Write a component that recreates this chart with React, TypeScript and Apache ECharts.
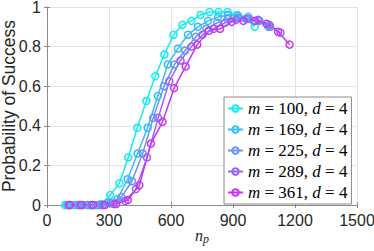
import React, { useEffect, useRef } from "react";
import * as echarts from "echarts";

const mValues = [100, 169, 225, 289, 361];
const dValue = 4;
const colors = ["#12ECF2", "#36BDF5", "#6A93F2", "#9C62F2", "#C934F2"];

const np100 = [87, 131, 175, 218, 262, 306, 350, 393, 437, 481, 524, 568, 612, 655, 699, 743, 787, 830, 874, 918, 961, 1005];
const p100 = [0, 0, 0, 0, 0.005, 0.05, 0.11, 0.24, 0.39, 0.525, 0.65, 0.76, 0.86, 0.91, 0.93, 0.96, 0.975, 0.975, 0.975, 0.96, 0.94, 0.9];

const np169 = [97, 146, 195, 243, 292, 341, 390, 438, 487, 536, 584, 633, 682, 730, 779, 828, 876, 925, 974, 1023, 1071];
const p169 = [0, 0, 0, 0, 0.01, 0.03, 0.13, 0.26, 0.39, 0.55, 0.71, 0.79, 0.86, 0.9, 0.93, 0.95, 0.96, 0.955, 0.95, 0.93, 0.9];

const np225 = [103, 154, 206, 257, 309, 360, 411, 463, 514, 566, 617, 668, 720, 771, 823, 874, 926, 977, 1028, 1080];
const p225 = [0, 0, 0, 0, 0.01, 0.04, 0.12, 0.26, 0.44, 0.6, 0.71, 0.78, 0.85, 0.89, 0.92, 0.94, 0.945, 0.94, 0.93, 0.9];

const np289 = [108, 161, 215, 269, 323, 377, 430, 484, 538, 592, 646, 699, 753, 807, 861, 915, 968, 1022, 1076, 1130];
const p289 = [0, 0, 0, 0, 0.005, 0.02, 0.08, 0.24, 0.44, 0.625, 0.73, 0.8, 0.86, 0.89, 0.92, 0.935, 0.94, 0.935, 0.91, 0.87];

const np361 = [112, 168, 224, 280, 335, 391, 447, 503, 559, 615, 671, 727, 783, 838, 894, 950, 1006, 1062, 1118, 1174];
const p361 = [0, 0, 0, 0, 0.005, 0.025, 0.1, 0.31, 0.42, 0.59, 0.7, 0.81, 0.88, 0.89, 0.925, 0.93, 0.93, 0.915, 0.875, 0.81];

const xList = [np100, np169, np225, np289, np361];
const yList = [p100, p169, p225, p289, p361];

const xTicks = [0, 300, 600, 900, 1200, 1500];
const yTicks = [0, 0.2, 0.4, 0.6, 0.8, 1];

const SANS = "'Liberation Sans', Arial, Helvetica, sans-serif";
const SERIF = "'Liberation Serif', 'Times New Roman', serif";
const TXT = "#262626";
const BOX = "#8a8a8a";
const GRIDC = "#e3e3e3";

export default function App() {
  const ref = useRef<HTMLDivElement>(null);
  useEffect(() => {
    document.body.style.margin = "0";
    const chart = echarts.init(ref.current!, null, { renderer: "svg" });
    const names = mValues.map((m) => `m = ${m}, d = ${dValue}`);
    const series = mValues.map((m, i) => ({
      name: names[i],
      type: "line",
      data: xList[i].map((x, j) => [x, yList[i][j]]),
      symbol: "circle",
      symbolSize: 7,
      showSymbol: true,
      lineStyle: { color: colors[i], width: 1.5 },
      itemStyle: { color: "rgba(255,255,255,0)", borderColor: colors[i], borderWidth: 1.5 },
      emphasis: { disabled: true },
      xAxisIndex: 0,
      yAxisIndex: 0,
    }));
    const xBase = {
      type: "value",
      min: xTicks[0],
      max: xTicks[xTicks.length - 1],
      interval: 300,
      axisLine: { show: true, lineStyle: { color: BOX, width: 1 } },
      axisTick: { show: true, inside: true, length: 3, lineStyle: { color: BOX } },
    };
    const yBase = {
      type: "value",
      min: yTicks[0],
      max: yTicks[yTicks.length - 1],
      interval: 0.2,
      axisLine: { show: true, lineStyle: { color: BOX, width: 1 } },
      axisTick: { show: true, inside: true, length: 3, lineStyle: { color: BOX } },
    };
    chart.setOption({
      animation: false,
      grid: { left: 47, top: 7, width: 310, height: 198, containLabel: false, outerBoundsMode: "none" },
      xAxis: [
        {
          ...xBase,
          position: "bottom",
          splitLine: { show: true, lineStyle: { color: GRIDC, width: 1 } },
          axisLabel: { fontSize: 16, color: TXT, fontFamily: SANS, margin: 7, formatter: (v: number) => String(v) },
          name: "{n|n}{p|p}",
          nameLocation: "middle",
          nameGap: 21,
          nameMoveOverlap: false,
          nameTextStyle: {
            rich: {
              n: { fontFamily: SERIF, fontStyle: "italic", fontSize: 16, color: TXT },
              p: { fontFamily: SERIF, fontStyle: "italic", fontSize: 12, color: TXT, padding: [7, 0, 0, 0] },
            },
          },
        },
        {
          ...xBase,
          position: "top",
          splitLine: { show: false },
          axisLabel: { show: false },
        },
      ],
      yAxis: [
        {
          ...yBase,
          position: "left",
          splitLine: { show: true, lineStyle: { color: GRIDC, width: 1 } },
          axisLabel: {
            fontSize: 16,
            lineHeight: 12,
            color: TXT,
            fontFamily: SANS,
            margin: 6,
            formatter: (v: number) => (v === 0 ? "0" : v === 1 ? "1" : v.toFixed(1)),
          },
          name: "Probability of Success",
          nameLocation: "middle",
          nameRotate: 90,
          nameGap: 29,
          nameMoveOverlap: false,
          nameTextStyle: { fontSize: 17.5, color: TXT, fontFamily: SANS },
        },
        {
          ...yBase,
          position: "right",
          splitLine: { show: false },
          axisLabel: { show: false },
        },
      ],
      legend: {
        data: names,
        orient: "vertical",
        left: 224,
        top: 97,
        padding: [3, 4, 3, 3],
        itemGap: 4,
        itemWidth: 15,
        itemHeight: 8,
        itemTextGap: 2,
        backgroundColor: "#ffffff",
        borderColor: BOX,
        borderWidth: 1,
        borderRadius: 0,
        formatter: (name: string) => {
          const i = names.indexOf(name);
          return `{i|m}{t| = ${mValues[i]}, }{i|d}{t| = ${dValue}}`;
        },
        textStyle: {
          color: "#000",
          rich: {
            i: { fontFamily: SERIF, fontStyle: "italic", fontSize: 17, lineHeight: 16, color: "#000" },
            t: { fontFamily: SERIF, fontSize: 17, lineHeight: 16, color: "#000" },
          },
        },
      },
      series,
    });
    return () => chart.dispose();
  }, []);
  return <div ref={ref} style={{ width: 374, height: 251 }} />;
}
